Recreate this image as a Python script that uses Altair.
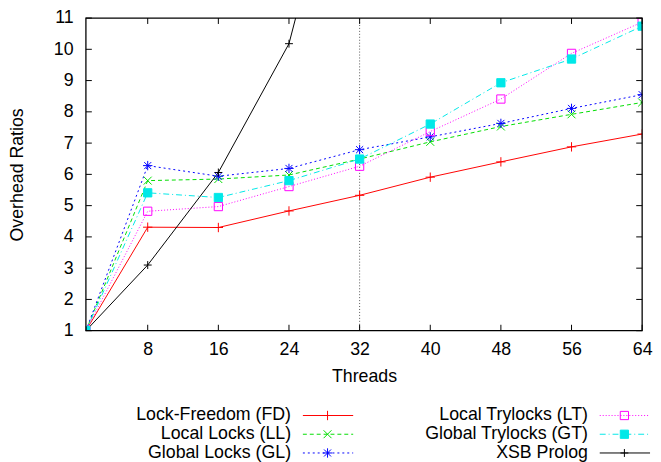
import altair as alt
import pandas as pd

# ---------------- data ----------------
threads = [1, 8, 16, 24, 32, 40, 48, 56, 64]
fd = [1.0, 4.31, 4.30, 4.83, 5.33, 5.91, 6.40, 6.88, 7.29]
ll = [1.0, 5.80, 5.85, 5.98, 6.49, 7.04, 7.53, 7.92, 8.30]
gl = [1.0, 6.28, 5.94, 6.19, 6.79, 7.20, 7.63, 8.11, 8.55]
lt = [1.0, 4.82, 4.97, 5.61, 6.26, 7.37, 8.41, 9.87, 10.87]
gt = [1.0, 5.41, 5.26, 5.80, 6.49, 7.61, 8.93, 9.69, 10.74]
xsb_threads = [1, 8, 16, 24, 32]
xsb = [1.0, 3.10, 6.06, 10.18, 18.9]

series_names = ["Lock-Freedom (FD)", "Local Locks (LL)", "Global Locks (GL)",
                "Local Trylocks (LT)", "Global Trylocks (GT)", "XSB Prolog"]
series_x = [threads, threads, threads, threads, threads, xsb_threads]
series_y = [fd, ll, gl, lt, gt, xsb]
legend_col = [0, 0, 0, 1, 1, 1]
legend_row = [0, 1, 2, 0, 1, 2]

x_ticks = [8, 16, 24, 32, 40, 48, 56, 64]
y_ticks = [1, 2, 3, 4, 5, 6, 7, 8, 9, 10, 11]
vline_at = [32]

# ---------------- styles ----------------
W, H = 564, 317
LH = 56
FONT = "Liberation Sans"
PLUS = "M-1,0L1,0M0,-1L0,1"
CROSS = "M-1,-1L1,1M-1,1L1,-1"
STAR = "M-1,0L1,0M0,-1L0,1M-0.75,-0.75L0.75,0.75M-0.75,0.75L0.75,-0.75"
styles = [
    dict(color="#ff0000", dash=None, shape=PLUS, filled=False, size=90),
    dict(color="#00dd00", dash=[4, 3], shape=CROSS, filled=False, size=64),
    dict(color="#0000ff", dash=[2, 3], shape=STAR, filled=False, size=90),
    dict(color="#ff00ff", dash=[1, 2], shape="square", filled=False, size=70),
    dict(color="#00e8e8", dash=[6, 3, 1, 3], shape="square", filled=True, size=70),
    dict(color="#000000", dash=None, shape=PLUS, filled=False, size=64),
]


def line_style(st):
    d = dict(color=st["color"], strokeWidth=1)
    if st["dash"]:
        d["strokeDash"] = st["dash"]
    return d


rows = []
for name, xs_, ys_ in zip(series_names, series_x, series_y):
    for a, b in zip(xs_, ys_):
        rows.append({"series": name, "threads": a, "ratio": b})
df = pd.DataFrame(rows)
leg = pd.DataFrame({"series": series_names, "col": legend_col, "row": legend_row})

xs = alt.Scale(domain=[1, 64], nice=False, zero=False)
ys = alt.Scale(domain=[1, 11], nice=False, zero=False)

x_axis = alt.Axis(values=x_ticks, title="Threads", ticks=False, domain=False, grid=False,
                  labelFontSize=18, titleFontSize=18, labelPadding=10, titlePadding=10,
                  labelColor="#000", titleColor="#000", titleFontWeight="normal",
                  labelFlush=False, labelFont=FONT, titleFont=FONT)
y_axis = alt.Axis(values=y_ticks, title="Overhead Ratios", ticks=False, domain=False, grid=False,
                  labelFontSize=18, titleFontSize=18, labelPadding=13, titlePadding=27,
                  labelColor="#000", titleColor="#000", titleFontWeight="normal",
                  labelFlush=False, labelFont=FONT, titleFont=FONT)

X = lambda f: alt.X(f, scale=xs, axis=x_axis)
Y = lambda f: alt.Y(f, scale=ys, axis=y_axis)

main_layers = []
vdf = pd.DataFrame({"threads": vline_at, "lo": [1], "hi": [11]})
main_layers.append(
    alt.Chart(vdf).mark_rule(color="#555555", strokeDash=[1, 2], strokeWidth=1).encode(
        x=X("threads:Q"), y=Y("lo:Q"), y2="hi:Q")
)
for name, st in zip(series_names, styles):
    base = alt.Chart(df).transform_filter(alt.datum.series == name)
    main_layers.append(
        base.mark_line(clip=True, **line_style(st)).encode(
            x=X("threads:Q"), y=Y("ratio:Q"))
    )
for name, st in zip(series_names, styles):
    base = alt.Chart(df).transform_filter(alt.datum.series == name)
    pk = dict(shape=st["shape"], size=st["size"], opacity=1, strokeWidth=1, clip=True)
    if st["filled"]:
        pk.update(filled=True, fill=st["color"], stroke=st["color"])
    else:
        pk.update(filled=False, color=st["color"])
    main_layers.append(
        base.mark_point(**pk).encode(x=X("threads:Q"), y=Y("ratio:Q"))
    )
# inward ticks (gnuplot style mirrors)
xt = pd.DataFrame({"v": x_ticks})
yt = pd.DataFrame({"v": y_ticks})
main_layers.append(alt.Chart(xt).mark_rule(color="#000", strokeWidth=1).encode(
    x=X("v:Q"), y=alt.value(H), y2=alt.value(H - 6)))
main_layers.append(alt.Chart(xt).mark_rule(color="#000", strokeWidth=1).encode(
    x=X("v:Q"), y=alt.value(0), y2=alt.value(6)))
main_layers.append(alt.Chart(yt).mark_rule(color="#000", strokeWidth=1).encode(
    y=Y("v:Q"), x=alt.value(0), x2=alt.value(6)))
main_layers.append(alt.Chart(yt).mark_rule(color="#000", strokeWidth=1).encode(
    y=Y("v:Q"), x=alt.value(W), x2=alt.value(W - 6)))
# plot frame
main_layers.append(alt.Chart(vdf).mark_rect(fill=None, stroke="#000", strokeWidth=1.3).encode(
    x=alt.value(0), x2=alt.value(W), y=alt.value(0), y2=alt.value(H)))

main = alt.layer(*main_layers).properties(width=W, height=H)

# ---------------- legend (custom, gnuplot style) ----------------
lx = alt.Scale(domain=[0, 1], range=[208, 509])
ly = alt.Scale(domain=[0, 2], range=[9, 47])
LX = lambda f: alt.X(f, scale=lx, axis=None)
LY = lambda f: alt.Y(f, scale=ly, axis=None)
leg_layers = [
    alt.Chart(leg).mark_text(align="right", baseline="middle", fontSize=18, font=FONT, color="#000").encode(
        x=LX("col:Q"), y=LY("row:Q"), text="series:N")
]
for name, st in zip(series_names, styles):
    lb = alt.Chart(leg).transform_filter(alt.datum.series == name)
    leg_layers.append(lb.mark_rule(xOffset=12, x2Offset=63, **line_style(st)).encode(
        x=LX("col:Q"), x2="col:Q", y=LY("row:Q")))
    pk = dict(shape=st["shape"], size=st["size"], opacity=1, strokeWidth=1, xOffset=37)
    if st["filled"]:
        pk.update(filled=True, fill=st["color"], stroke=st["color"])
    else:
        pk.update(filled=False, color=st["color"])
    leg_layers.append(lb.mark_point(**pk).encode(x=LX("col:Q"), y=LY("row:Q")))
legend = alt.layer(*leg_layers).properties(width=W, height=LH)

chart = alt.vconcat(main, legend, spacing=21).properties(
    padding={"left": 0, "top": -2, "right": 0, "bottom": 0}
).configure(font=FONT).configure_view(stroke=None)

chart.save("out.html", embed_options={"renderer": "svg", "actions": False})
